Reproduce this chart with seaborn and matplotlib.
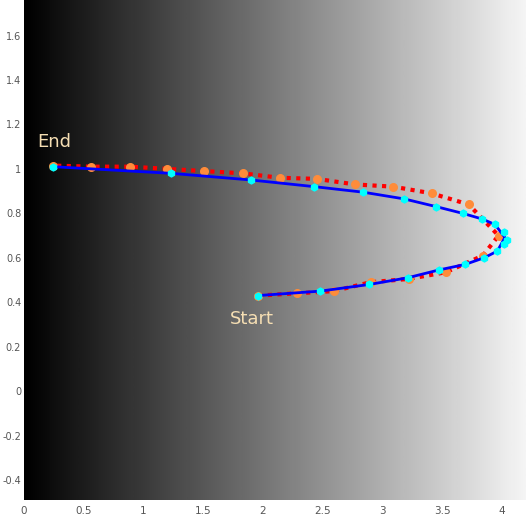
import numpy as np
import matplotlib
matplotlib.use('Agg')
import matplotlib.pyplot as plt
import seaborn as sns

# blue path (cyan markers), from start to end
blue_x = [1.96, 2.48, 2.89, 3.21, 3.47, 3.69, 3.85, 3.96, 4.02, 4.04, 4.02,
          3.94, 3.83, 3.67, 3.45, 3.18, 2.84, 2.43, 1.90, 1.23, 0.24]
blue_y = [0.43, 0.45, 0.48, 0.51, 0.545, 0.57, 0.60, 0.63, 0.66, 0.68, 0.716,
          0.75, 0.775, 0.80, 0.83, 0.865, 0.895, 0.92, 0.95, 0.98, 1.01]
# red dotted path (orange markers)
red_x = [1.96, 2.28, 2.59, 2.90, 3.22, 3.53, 3.84, 3.97, 3.72, 3.41,
         3.09, 2.77, 2.45, 2.14, 1.83, 1.51, 1.20, 0.89, 0.56, 0.24]
red_y = [0.43, 0.44, 0.45, 0.49, 0.505, 0.535, 0.61, 0.70, 0.84, 0.89,
         0.92, 0.93, 0.955, 0.96, 0.98, 0.99, 1.0, 1.01, 1.01, 1.015]

sns.set_style("white")
fig = plt.figure(figsize=(5.26, 5.18), dpi=100)
ax = fig.add_axes([24 / 526, 18 / 518, 502 / 526, 500 / 518])
xlim = (0, 4.2)
ylim = (-0.49, 1.76)

grad = np.linspace(0, 0.96, 256).reshape(1, -1)
ax.imshow(grad, cmap='gray', vmin=0, vmax=1, aspect='auto',
          extent=[xlim[0], xlim[1], ylim[0], ylim[1]], zorder=0)

sns.lineplot(x=red_x, y=red_y, sort=False, ax=ax, color='red', lw=3,
             linestyle=(0, (1, 1.3)), zorder=2)
ax.scatter(red_x, red_y, color='#ff8c3a', s=30, zorder=3)
sns.lineplot(x=blue_x, y=blue_y, sort=False, ax=ax, color='blue', lw=2, zorder=4)
ax.scatter(blue_x, blue_y, color='cyan', s=25, marker='h', zorder=5)

ax.text(0.11, 1.1, 'End', color='wheat', fontsize=13)
ax.text(1.72, 0.3, 'Start', color='wheat', fontsize=13)

ax.set_xlim(xlim)
ax.set_ylim(ylim)
ax.set_xticks(np.arange(0, 4.01, 0.5))
ax.set_xticklabels(['0', '0.5', '1', '1.5', '2', '2.5', '3', '3.5', '4'])
ax.set_yticks(np.arange(-0.4, 1.61, 0.2))
ax.set_yticklabels(['-0.4', '-0.2', '0', '0.2', '0.4', '0.6', '0.8', '1', '1.2', '1.4', '1.6'])
ax.tick_params(axis='x', labelsize=7.5, labelcolor='#555555', length=0, pad=4)
ax.tick_params(axis='y', labelsize=7, labelcolor='#555555', length=0, pad=2)
for s in ax.spines.values():
    s.set_visible(False)

fig.savefig('out.png', dpi=100)
